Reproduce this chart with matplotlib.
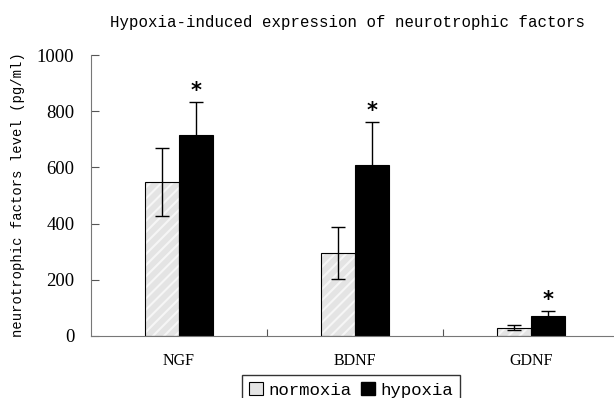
import numpy as np
import matplotlib
matplotlib.use('Agg')
import matplotlib.pyplot as plt
from matplotlib.patches import Patch

categories = ['NGF', 'BDNF', 'GDNF']
normoxia = [548, 295, 30]
normoxia_err = [122, 93, 8]
hypoxia = [715, 610, 70]
hypoxia_err = [118, 150, 18]
yticks = [0, 200, 400, 600, 800, 1000]

W, H = 614, 398
fig = plt.figure(figsize=(W / 100, H / 100), dpi=100)
# axes in pixel terms: left 91, right ~619, bottom y=336, top y=55
ax = fig.add_axes([91 / W, (H - 336) / H, (619 - 91) / W, (336 - 55) / H])

x = np.arange(len(categories))
bw = 0.195
plt.rcParams['hatch.linewidth'] = 1.5
# light hatch first (white lines), then a black outline on top
ax.bar(x - bw / 2, normoxia, bw, color='#e4e4e4', edgecolor='#f6f6f6',
       linewidth=0, hatch='///')
ax.bar(x - bw / 2, normoxia, bw, fill=False, edgecolor='black', linewidth=0.8)
ax.bar(x + bw / 2, hypoxia, bw, color='black', edgecolor='black', linewidth=0.8)
ax.errorbar(x - bw / 2, normoxia, yerr=normoxia_err, fmt='none',
            ecolor='black', elinewidth=1, capsize=5, capthick=1)
ax.errorbar(x + bw / 2, hypoxia, yerr=hypoxia_err, fmt='none',
            ecolor='black', elinewidth=1, capsize=5, capthick=1)

for xi, h, e in zip(x, hypoxia, hypoxia_err):
    ax.text(xi + bw / 2, h + e + 5, '*', ha='center', va='bottom',
            fontsize=15, fontweight='bold', family='DejaVu Sans')

ax.set_xlim(-0.5, 2.5)
ax.set_ylim(0, 1000)
ax.set_yticks(yticks)
ax.set_yticklabels([str(t) for t in yticks], family='Liberation Serif', fontsize=13.5)
ax.set_xticks([0.5, 1.5])
ax.set_xticklabels([])
ax.tick_params(axis='x', direction='in', length=5, color='#555555')
ax.tick_params(axis='y', direction='in', length=6, color='#555555', pad=12)
for xi, c in zip(x, categories):
    ax.text(xi, -0.09, c, transform=ax.get_xaxis_transform(), ha='center',
            va='center', family='Liberation Serif', fontsize=11.5)

for s in ['top', 'right']:
    ax.spines[s].set_visible(False)
for s in ['left', 'bottom']:
    ax.spines[s].set_color('#777777')

fig.text(348 / W, 1 - 22 / H, 'Hypoxia-induced expression of neurotrophic factors',
         ha='center', va='center', family='Liberation Mono', fontsize=11.3)
fig.text(18 / W, 1 - 195 / H, 'neurotrophic factors level (pg/ml)', rotation=90,
         ha='center', va='center', family='Liberation Mono', fontsize=10)

handles = [Patch(facecolor='#e4e4e4', edgecolor='black', linewidth=0.8, label='normoxia'),
           Patch(facecolor='black', edgecolor='black', label='hypoxia')]
leg = fig.legend(handles=handles, loc='upper center', bbox_to_anchor=(351 / W, 1 - 375 / H),
                 ncol=2, frameon=True, fancybox=False, edgecolor='black',
                 prop={'family': 'Liberation Mono', 'size': 12.5},
                 handlelength=0.8, handleheight=0.8, handletextpad=0.3,
                 columnspacing=0.6, borderpad=0.4, borderaxespad=0)
leg.get_frame().set_linewidth(1)

fig.savefig('out.png', dpi=100)
